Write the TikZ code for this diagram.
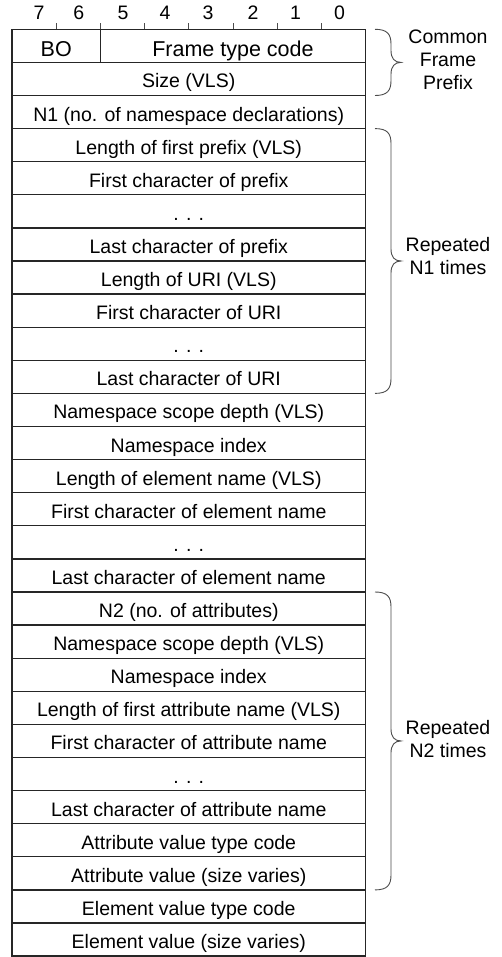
\documentclass[tikz,border=0pt]{standalone}
\usepackage{fontspec}
\setmainfont{Liberation Sans}
\usetikzlibrary{calc}
\tikzset{
  rowbox/.style={draw=black!85, line width=1.3pt, minimum width=353.5pt, minimum height=33.1pt,
     inner sep=0pt, outer sep=0pt, anchor=north west, text height=20pt, text depth=2pt,
     font=\fontsize{19.5}{22}\selectfont},
  toprow/.style={rowbox, text height=24pt, text depth=2pt, font=\fontsize{21.5}{24}\selectfont},
  bitnum/.style={inner sep=0pt, font=\fontsize{19.5}{22}\selectfont},
  sidelabel/.style={align=center, inner sep=0pt, font=\fontsize{19.5}{23}\selectfont},
  bracestyle/.style={draw=black!70, line width=0.9pt},
  tickstyle/.style={draw=black!70, line width=0.9pt}
}
\newcommand\fieldbrace[2]{%
  \draw[bracestyle] let \p1=(#1.north east), \p2=(#2.south east), \n1={0.5*\y1+0.5*\y2} in
    (\x1+9.5pt,\y1) .. controls (\x1+22pt,\y1) and (\x1+25.5pt,\y1-5pt) .. (\x1+25.5pt,\y1-15pt)
    -- (\x1+25.5pt,\n1+12pt) .. controls (\x1+25.5pt,\n1+4pt) and (\x1+29pt,\n1) .. (\x1+35.5pt,\n1)
    .. controls (\x1+29pt,\n1) and (\x1+25.5pt,\n1-4pt) .. (\x1+25.5pt,\n1-12pt)
    -- (\x1+25.5pt,\y2+15pt) .. controls (\x1+25.5pt,\y2+5pt) and (\x1+22pt,\y2) .. (\x1+9.5pt,\y2);}
\begin{document}
\begin{tikzpicture}[x=1pt, y=-1pt]
\useasboundingbox[fill=white] (0,0) rectangle (501,957);
% bit numbers
\foreach \k/\xx in {7/39, 6/78.8, 5/123, 4/165, 3/208, 2/253, 1/295.5, 0/339.5}
  \node[bitnum] (b\k) at (\xx,13) {\k};
% ticks
\foreach \k in {1,...,7}
  \coordinate (t\k) at (12+44.19*\k,23.5);
\foreach \k in {1,...,7}
  \draw[tickstyle] (t\k) -- ++(0,5.8);
% first row
\node[toprow, minimum width=88.4pt] (r0a) at (12,29.3) {BO};
\node[toprow, minimum width=265.1pt] (r0b) at (100.4,29.3) {Frame type code};
% other rows
\foreach \i/\t in {
  1/{Size (VLS)},
  2/{N1 (no. of namespace declarations)},
  3/{Length of first prefix (VLS)},
  4/{First character of prefix},
  5/{. . .},
  6/{Last character of prefix},
  7/{Length of URI (VLS)},
  8/{First character of URI},
  9/{. . .},
  10/{Last character of URI},
  11/{Namespace scope depth (VLS)},
  12/{Namespace index},
  13/{Length of element name (VLS)},
  14/{First character of element name},
  15/{. . .},
  16/{Last character of element name},
  17/{N2 (no. of attributes)},
  18/{Namespace scope depth (VLS)},
  19/{Namespace index},
  20/{Length of first attribute name (VLS)},
  21/{First character of attribute name},
  22/{. . .},
  23/{Last character of attribute name},
  24/{Attribute value type code},
  25/{Attribute value (size varies)},
  26/{Element value type code},
  27/{Element value (size varies)}}
  \node[rowbox] (r\i) at (12,29.3+33.1*\i) {\t};
% braces
\fieldbrace{r0b}{r1}
\fieldbrace{r3}{r10}
\fieldbrace{r17}{r25}
% labels
\node[sidelabel] (lcfp) at (448,60) {Common\\Frame\\Prefix};
\node[sidelabel] (ln1) at (448,256.5) {Repeated\\N1 times};
\node[sidelabel] (ln2) at (448,739.5) {Repeated\\N2 times};
\end{tikzpicture}
\end{document}
